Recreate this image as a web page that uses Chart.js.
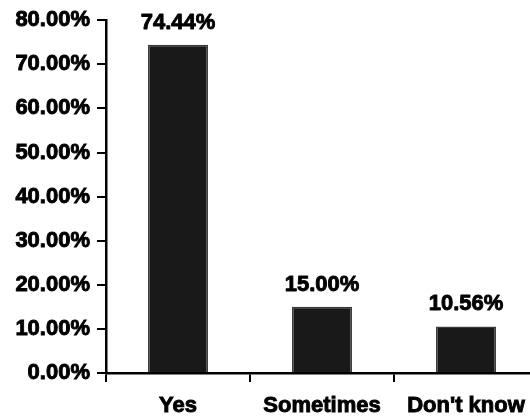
<!DOCTYPE html>
<html>
<head>
<meta charset="utf-8">
<script src="https://cdn.jsdelivr.net/npm/chart.js@4"></script>
<style>
  html, body { margin: 0; padding: 0; overflow: hidden; background: #fff; }
  #wrap { width: 540px; height: 417px; }
</style>
</head>
<body>
<div id="wrap"><canvas id="c" width="540" height="417"></canvas></div>
<script>
// Survey answers and their shares (percent)
const categories = ['Yes', 'Sometimes', "Don't know"];
const shares = [74.44, 15.00, 10.56];
const yTickValues = [0, 10, 20, 30, 40, 50, 60, 70, 80];

const FONT = { family: '"Liberation Sans", Arial, sans-serif', size: 22, weight: 'bold' };
const STROKE = 0.9; // thickens the bold glyphs a little
const pct = v => Number(v).toFixed(2) + '%';

// Writes each bar's value above it
const valueLabels = {
  id: 'valueLabels',
  afterDatasetsDraw(chart) {
    const ctx = chart.ctx;
    const meta = chart.getDatasetMeta(0);
    ctx.save();
    ctx.font = `${FONT.weight} ${FONT.size}px ${FONT.family}`;
    ctx.fillStyle = '#000';
    ctx.strokeStyle = '#000';
    ctx.lineWidth = STROKE;
    ctx.lineJoin = 'round';
    ctx.textAlign = 'center';
    ctx.textBaseline = 'alphabetic';
    meta.data.forEach((bar, i) => {
      const t = pct(shares[i]);
      ctx.strokeText(t, bar.x, bar.y - 16);
      ctx.fillText(t, bar.x, bar.y - 16);
    });
    ctx.restore();
  }
};

new Chart(document.getElementById('c'), {
  type: 'bar',
  data: {
    labels: categories,
    datasets: [{
      data: shares,
      backgroundColor: '#191919',
      borderColor: '#3c3c3c',
      borderWidth: 1.5,
      barPercentage: 0.417,
      categoryPercentage: 1.0
    }]
  },
  options: {
    responsive: false,
    animation: false,
    devicePixelRatio: 1,
    layout: { padding: { top: 18, right: 2, left: 0, bottom: 0 } },
    plugins: { legend: { display: false }, tooltip: { enabled: false } },
    scales: {
      x: {
        offset: true,
        grid: {
          offset: true,
          drawOnChartArea: false,
          drawTicks: true,
          tickLength: 9,
          color: '#000',
          lineWidth: 2
        },
        border: { display: true, color: '#000', width: 2.5 },
        ticks: {
          color: '#000', font: FONT, padding: 11, maxRotation: 0, autoSkip: false,
          textStrokeColor: '#000', textStrokeWidth: STROKE
        },
        afterFit(scale) { scale.height = 44; }
      },
      y: {
        min: 0,
        max: 80,
        grid: {
          drawOnChartArea: false,
          drawTicks: true,
          tickLength: 9,
          color: '#000',
          lineWidth: 2
        },
        border: { display: true, color: '#000', width: 2.5 },
        ticks: {
          color: '#000', font: FONT, padding: 7, callback: v => pct(v),
          textStrokeColor: '#000', textStrokeWidth: STROKE
        },
        afterBuildTicks(scale) { scale.ticks = yTickValues.map(v => ({ value: v })); },
        afterFit(scale) { scale.width = 106; }
      }
    }
  },
  plugins: [valueLabels]
});
</script>
</body>
</html>
